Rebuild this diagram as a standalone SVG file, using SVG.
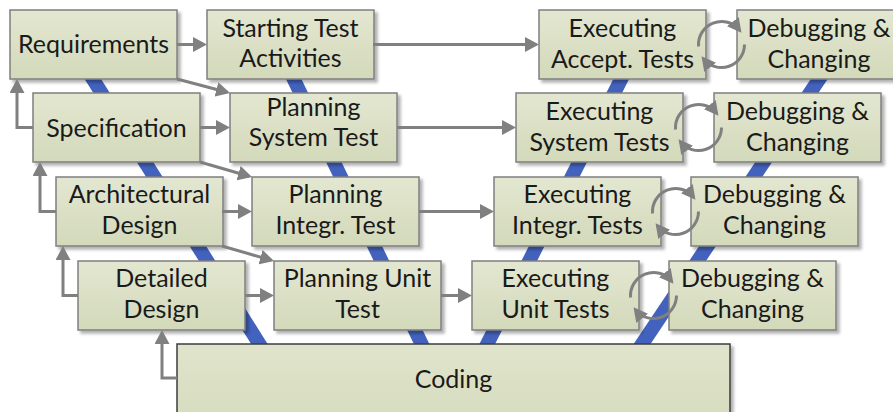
<svg xmlns="http://www.w3.org/2000/svg" width="893" height="412" viewBox="0 0 893 412">
<style>
.box{fill:url(#g);stroke:#7f7f7f;stroke-width:1.5;filter:url(#sh)}
.big{fill:url(#g2);stroke:#3c3c3c;stroke-width:1.5;filter:url(#sh)}
.t{font-family:Lato,"Liberation Sans",sans-serif;font-size:25px;fill:#1a1a1a;text-anchor:middle}
.band{stroke:#4262be;stroke-width:14;fill:none}
.c{stroke:#808080;stroke-width:3;fill:none;marker-end:url(#ah)}
</style>
<defs>
<linearGradient id="g" x1="0" y1="0" x2="0" y2="1"><stop offset="0" stop-color="#e3e7d1"/><stop offset="1" stop-color="#d3d9ba"/></linearGradient>
<linearGradient id="g2" x1="0" y1="0" x2="0" y2="1"><stop offset="0" stop-color="#e0e4cc"/><stop offset="1" stop-color="#d6dcbe"/></linearGradient>
<filter id="sh" x="-10%" y="-10%" width="130%" height="130%"><feDropShadow dx="3" dy="3" stdDeviation="1.5" flood-color="#000" flood-opacity="0.3"/></filter>
<marker id="ah" markerUnits="userSpaceOnUse" markerWidth="15" markerHeight="15" refX="11" refY="7.5" orient="auto"><path d="M0,0 L14,7.5 L0,15 z" fill="#808080"/></marker>
</defs>
<rect width="893" height="412" fill="#fff"/>
<g id="bands">
<line class="band" x1="62" y1="30" x2="282" y2="380"/>
<line class="band" x1="270" y1="30" x2="439" y2="380"/>
<line class="band" x1="646" y1="30" x2="469" y2="380"/>
<line class="band" x1="852" y1="30" x2="618" y2="380"/>
</g>
<g id="requirements"><rect class="box" x="10" y="10" width="167" height="69"/><text class="t" x="93.5" y="53">Requirements</text></g>
<g id="starting-test"><rect class="box" x="207" y="10" width="167" height="69"/><text class="t" x="290.5" y="37">Starting Test</text><text class="t" x="290.5" y="67">Activities</text></g>
<g id="exec-accept"><rect class="box" x="539" y="10" width="167" height="69"/><text class="t" x="622.5" y="37">Executing</text><text class="t" x="622.5" y="68">Accept. Tests</text></g>
<g id="debug-1"><rect class="box" x="737" y="10" width="167" height="69"/><text class="t" x="819" y="37">Debugging &amp;</text><text class="t" x="819" y="68">Changing</text></g>
<g id="specification"><rect class="box" x="33" y="93" width="167" height="69"/><text class="t" x="116.5" y="137">Specification</text></g>
<g id="plan-system"><rect class="box" x="230" y="93" width="167" height="69"/><text class="t" x="313.5" y="116">Planning</text><text class="t" x="313.5" y="146">System Test</text></g>
<g id="exec-system"><rect class="box" x="516" y="93" width="167" height="69"/><text class="t" x="599.5" y="120">Executing</text><text class="t" x="599.5" y="151">System Tests</text></g>
<g id="debug-2"><rect class="box" x="714" y="93" width="167" height="69"/><text class="t" x="797.5" y="120">Debugging &amp;</text><text class="t" x="797.5" y="151">Changing</text></g>
<g id="architectural"><rect class="box" x="56" y="177" width="167" height="69"/><text class="t" x="139.5" y="203">Architectural</text><text class="t" x="139.5" y="234">Design</text></g>
<g id="plan-integr"><rect class="box" x="252" y="177" width="167" height="69"/><text class="t" x="335.5" y="203">Planning</text><text class="t" x="335.5" y="234">Integr. Test</text></g>
<g id="exec-integr"><rect class="box" x="494" y="177" width="167" height="69"/><text class="t" x="577.5" y="203">Executing</text><text class="t" x="577.5" y="234">Integr. Tests</text></g>
<g id="debug-3"><rect class="box" x="691" y="177" width="167" height="69"/><text class="t" x="774.5" y="203">Debugging &amp;</text><text class="t" x="774.5" y="234">Changing</text></g>
<g id="detailed"><rect class="box" x="78" y="261" width="167" height="69"/><text class="t" x="161.5" y="287">Detailed</text><text class="t" x="161.5" y="318">Design</text></g>
<g id="plan-unit"><rect class="box" x="274" y="261" width="167" height="69"/><text class="t" x="357.5" y="287">Planning Unit</text><text class="t" x="357.5" y="318">Test</text></g>
<g id="exec-unit"><rect class="box" x="472" y="261" width="167" height="69"/><text class="t" x="555.5" y="287">Executing</text><text class="t" x="555.5" y="318">Unit Tests</text></g>
<g id="debug-4"><rect class="box" x="669" y="261" width="167" height="69"/><text class="t" x="752.5" y="287">Debugging &amp;</text><text class="t" x="752.5" y="318">Changing</text></g>
<g id="coding"><rect class="big" x="177" y="344" width="553" height="80"/><text class="t" x="453.5" y="388">Coding</text></g>
<g id="connectors">
<path class="c" d="M177,44.5 H204"/>
<path class="c" d="M373,44.5 H536"/>
<path class="c" d="M200,127.5 H227"/>
<path class="c" d="M397,127.5 H513"/>
<path class="c" d="M222,211.5 H249"/>
<path class="c" d="M419,211.5 H491"/>
<path class="c" d="M245,295.5 H271"/>
<path class="c" d="M441,295.5 H469"/>
<path class="c" d="M177,79 L227.1,92.2"/>
<path class="c" d="M200,162 L249.1,176.2"/>
<path class="c" d="M222,246 L271.1,260.2"/>
<path class="c" d="M33,127.5 H17 V82"/>
<path class="c" d="M56,211.5 H40 V165"/>
<path class="c" d="M78,295.5 H63 V249"/>
<path class="c" d="M177,378 H162 V333"/>
<path class="c" d="M698.6,46.5 A23,23 0 0 1 739.6,30.3"/>
<path class="c" d="M744.5,44.5 A23,23 0 0 1 703.4,58.7"/>
<path class="c" d="M675.6,129.5 A23,23 0 0 1 716.6,113.3"/>
<path class="c" d="M721.5,127.5 A23,23 0 0 1 680.4,141.7"/>
<path class="c" d="M652.6,213.5 A23,23 0 0 1 693.6,197.3"/>
<path class="c" d="M698.5,211.5 A23,23 0 0 1 657.4,225.7"/>
<path class="c" d="M630.6,297.5 A23,23 0 0 1 671.6,281.3"/>
<path class="c" d="M676.5,295.5 A23,23 0 0 1 635.4,309.7"/>
</g>
</svg>
